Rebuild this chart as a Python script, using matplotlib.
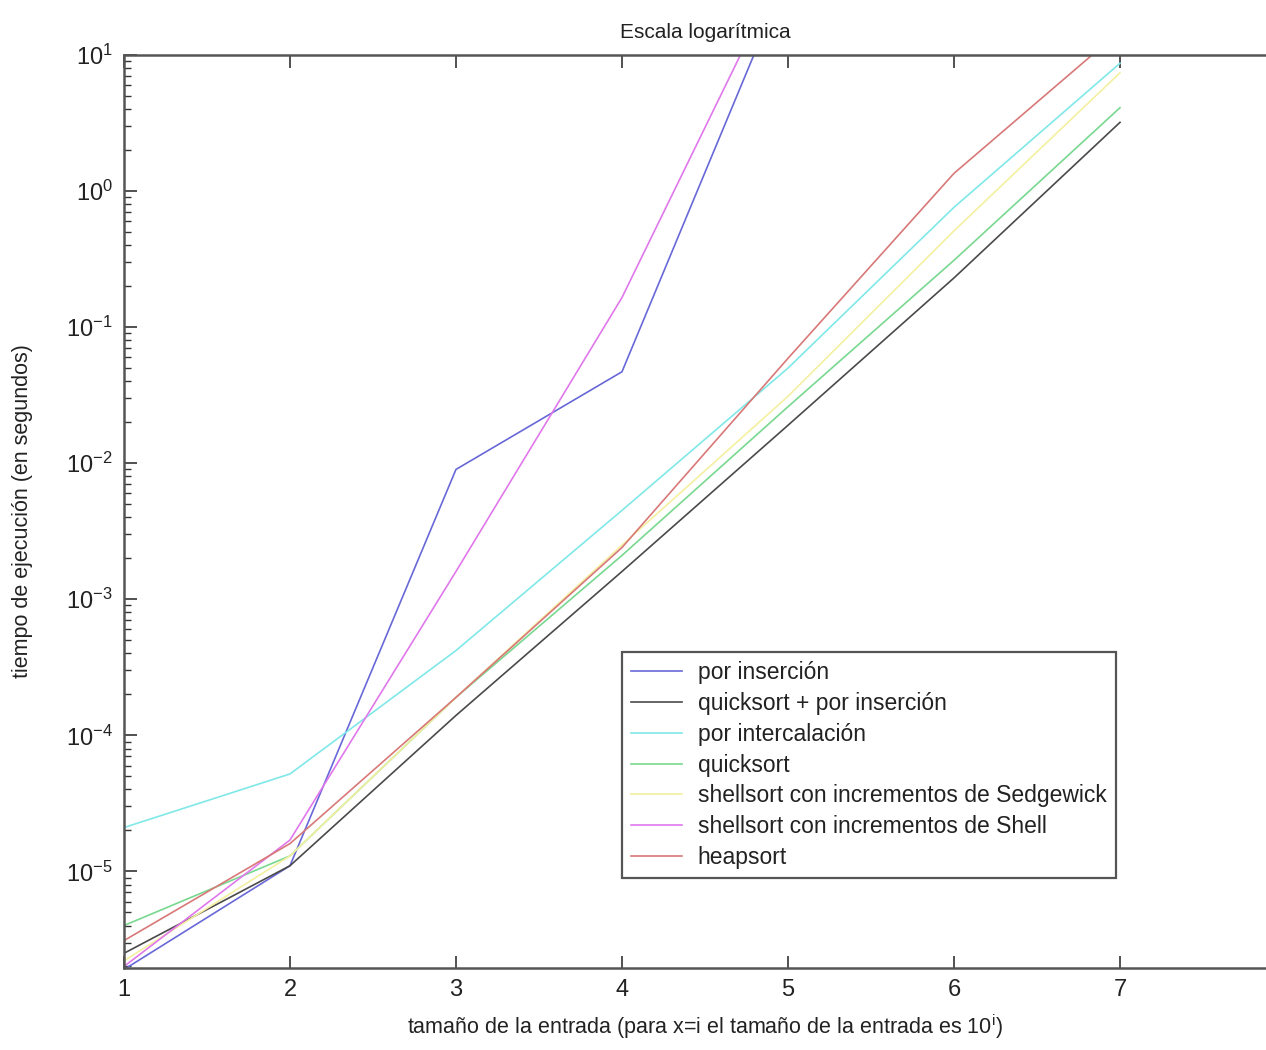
import numpy as np
import matplotlib
matplotlib.use("Agg")
import matplotlib.pyplot as plt
from matplotlib.ticker import FuncFormatter, FixedLocator, LogLocator

plt.rcParams['font.family'] = ['Liberation Sans', 'DejaVu Sans']
plt.rcParams['mathtext.fontset'] = 'custom'
plt.rcParams['mathtext.rm'] = 'Liberation Sans'
plt.rcParams['axes.unicode_minus'] = False

# x = i  ->  input size 10^i
x = [1, 2, 3, 4, 5, 6, 7]

# execution times in seconds
insercion = [1.9e-6, 1.1e-5, 9.0e-3, 4.7e-2, 40.0]
quick_ins = [2.5e-6, 1.1e-5, 1.4e-4, 1.6e-3, 1.9e-2, 2.3e-1, 3.2]
intercalacion = [2.1e-5, 5.2e-5, 4.2e-4, 4.5e-3, 5.0e-2, 7.6e-1, 8.7]
quicksort = [4.0e-6, 1.3e-5, 1.9e-4, 2.1e-3, 2.6e-2, 3.1e-1, 4.1]
sedgewick = [2.2e-6, 1.3e-5, 1.9e-4, 2.5e-3, 3.1e-2, 5.1e-1, 7.4]
shell = [2.0e-6, 1.7e-5, 1.6e-3, 1.65e-1, 52.0]
heapsort = [3.1e-6, 1.6e-5, 1.9e-4, 2.4e-3, 5.9e-2, 1.35, 15.0]

labels = ['por inserción', 'quicksort + por inserción', 'por intercalación',
          'quicksort', 'shellsort con incrementos de Sedgewick',
          'shellsort con incrementos de Shell', 'heapsort']
colors = ['#6868d8', '#4a4a4a', '#80e8e8', '#78d890', '#f4f0a0', '#e078ec', '#d87878']
series = [insercion, quick_ins, intercalacion, quicksort, sedgewick, shell, heapsort]

xticks = [1, 2, 3, 4, 5, 6, 7, 8]
yticks = [1e-5, 1e-4, 1e-3, 1e-2, 1e-1, 1e0, 1e1]

fig = plt.figure(figsize=(12.66, 10.5), dpi=100)
ax = fig.add_axes([0.0979, 0.0781, 0.9179, 0.8695])

for ys, lab, c in zip(series, labels, colors):
    ax.plot(x[:len(ys)], ys, color=c, lw=1.2, label=lab)

ax.set_yscale('log')
ax.set_xlim(1, 8)
ax.set_ylim(1.95e-6, 10)
ax.xaxis.set_major_locator(FixedLocator(xticks))
ax.xaxis.set_major_formatter(FuncFormatter(lambda v, p: '' if v > 7 else '%d' % v))
ax.yaxis.set_major_locator(FixedLocator(yticks))
ax.yaxis.set_minor_locator(LogLocator(base=10, subs=np.arange(2, 10), numticks=20))
ax.yaxis.set_major_formatter(FuncFormatter(lambda v, p: r'$\mathregular{10^{%d}}$' % round(np.log10(v))))

ax.tick_params(which='both', direction='in', top=True, right=True, colors='#333333',
               labelsize=17, labelcolor='#222222')
ax.tick_params(which='major', length=9, width=1.2, pad=8)
ax.tick_params(which='minor', length=5, width=1.0)
for s in ax.spines.values():
    s.set_color('#555555')
    s.set_linewidth(1.8)

ax.set_title('Escala logarítmica', fontsize=15, color='#222222', pad=12)
ax.set_xlabel(r'tamaño de la entrada (para x=i el tamaño de la entrada es 10$^{\mathregular{i}}$)',
              fontsize=15.5, color='#222222', labelpad=8)
ax.set_ylabel('tiempo de ejecución (en segundos)', fontsize=15.5, color='#222222', labelpad=24)

leg = ax.legend(loc='upper left', bbox_to_anchor=(0.4286, 0.346), fontsize=16.5,
                fancybox=False, edgecolor='#555555', framealpha=1, labelspacing=0.34,
                handlelength=2.2, handletextpad=0.7, borderaxespad=0, borderpad=0.4)
leg.get_frame().set_linewidth(1.6)
for t in leg.get_texts():
    t.set_color('#222222')

fig.savefig('out.png', dpi=100)
